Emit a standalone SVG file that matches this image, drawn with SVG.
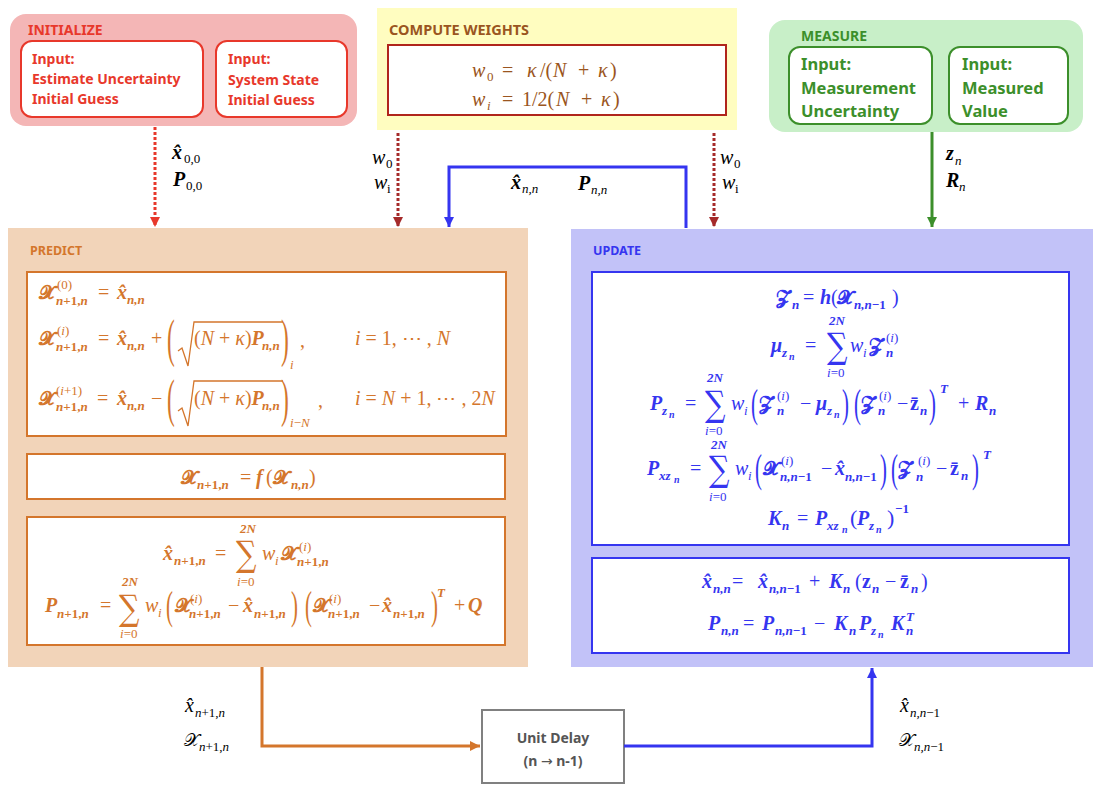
<svg xmlns="http://www.w3.org/2000/svg" width="1102" height="793" viewBox="0 0 1102 793">
<style>
.t{font-family:"Noto Sans","Liberation Sans",sans-serif;font-weight:bold}
.m{font-family:"Liberation Serif","DejaVu Serif",serif;font-style:italic;font-size:20px}
.u{font-style:normal}
.b{font-weight:bold}
.sc{font-style:normal;font-weight:bold;font-size:19px}
.s{font-size:13px}
.ss{font-size:10px}
.big{font-family:"Liberation Serif",serif;font-style:normal;font-weight:normal;font-size:52px}
.sum{font-family:"DejaVu Serif","Liberation Serif",serif;font-style:normal;font-weight:normal;font-size:35px}
.po{fill:#d4762c}
.bl{fill:#3535f0}
.k{fill:#000}
.br{fill:#9a5520}
</style>
<defs>
<marker id="aR" markerUnits="userSpaceOnUse" markerWidth="12" markerHeight="12" refX="10" refY="5" orient="auto"><path d="M0,0 L10,5 L0,10 z" fill="#e8382b"/></marker>
<marker id="aD" markerUnits="userSpaceOnUse" markerWidth="12" markerHeight="12" refX="10" refY="5" orient="auto"><path d="M0,0 L10,5 L0,10 z" fill="#a52a2a"/></marker>
<marker id="aB" markerUnits="userSpaceOnUse" markerWidth="12" markerHeight="12" refX="10" refY="5" orient="auto"><path d="M0,0 L10,5 L0,10 z" fill="#3535f0"/></marker>
<marker id="aG" markerUnits="userSpaceOnUse" markerWidth="12" markerHeight="12" refX="10" refY="5" orient="auto"><path d="M0,0 L10,5 L0,10 z" fill="#3c8f2b"/></marker>
<marker id="aO" markerUnits="userSpaceOnUse" markerWidth="12" markerHeight="12" refX="10" refY="5" orient="auto"><path d="M0,0 L10,5 L0,10 z" fill="#d4762c"/></marker>
</defs>
<rect width="1102" height="793" fill="#fff"/>

<g id="initialize">
<rect x="10" y="14" width="347" height="112" rx="16" fill="#f4b6b6"/>
<text class="t" x="28" y="35" font-size="14" fill="#e8382b">INITIALIZE</text>
<rect x="21" y="41" width="182" height="76" rx="11" fill="#fff" stroke="#e8382b" stroke-width="2"/>
<rect x="216" y="41" width="131" height="76" rx="11" fill="#fff" stroke="#e8382b" stroke-width="2"/>
<g class="t" font-size="14" fill="#e8382b">
<text x="32" y="64">Input:</text><text x="32" y="84">Estimate Uncertainty</text><text x="32" y="104">Initial Guess</text>
<text x="228" y="64">Input:</text><text x="228" y="85">System State</text><text x="228" y="105">Initial Guess</text>
</g>
</g>

<g id="weights">
<rect x="377" y="8" width="360" height="122" fill="#fffdc0"/>
<text class="t" x="389" y="35" font-size="14.5" fill="#9a5520">COMPUTE WEIGHTS</text>
<rect x="388" y="45" width="338" height="70" fill="#fff" stroke="#b0251c" stroke-width="2"/>
<g class="m br" font-size="23">
<text x="472" y="77">w</text><text x="487" y="81" class="s u">0</text>
<text x="502" y="77" class="u">=</text>
<text x="527" y="77">κ</text><text x="540" y="77" class="u">/(</text><text x="553" y="77">N</text><text x="578" y="77" class="u">+</text><text x="598" y="77">κ</text><text x="610" y="77" class="u">)</text>
<text x="472" y="106">w</text><text x="487" y="110" class="s">i</text>
<text x="502" y="106" class="u">=</text>
<text x="522" y="106" class="u">1/2(</text><text x="556" y="106">N</text><text x="581" y="106" class="u">+</text><text x="601" y="106">κ</text><text x="613" y="106" class="u">)</text>
</g>
</g>

<g id="measure">
<rect x="769" y="20" width="314" height="112" rx="16" fill="#c8efc8"/>
<text class="t" x="801" y="41" font-size="14" fill="#3c8f2b">MEASURE</text>
<rect x="789" y="47" width="143" height="77" rx="11" fill="#fff" stroke="#3c8f2b" stroke-width="2"/>
<rect x="949" y="47" width="119" height="77" rx="11" fill="#fff" stroke="#3c8f2b" stroke-width="2"/>
<g class="t" font-size="16.5" fill="#3c8f2b">
<text x="801" y="70">Input:</text><text x="801" y="94">Measurement</text><text x="801" y="117">Uncertainty</text>
<text x="962" y="70">Input:</text><text x="962" y="94">Measured</text><text x="962" y="117">Value</text>
</g>
</g>

<g id="predict">
<rect x="8" y="228" width="520" height="439" fill="#f2d4b9"/>
<text class="t" x="30" y="255" font-size="12.5" fill="#d4762c">PREDICT</text>
<rect x="27" y="272" width="479" height="164" fill="#fff" stroke="#d4762c" stroke-width="2"/>
<rect x="27" y="454" width="478" height="45" fill="#fff" stroke="#d4762c" stroke-width="2"/>
<rect x="27" y="517" width="478" height="128" fill="#fff" stroke="#d4762c" stroke-width="2"/>
<g class="m po">
<!-- line 1 -->
<text x="39" y="299" class="sc">𝓧</text>
<text x="57" y="289" class="s u">(0)</text>
<text x="56" y="305" class="s b">n<tspan class="u">+1,</tspan>n</text>
<text x="98" y="299" class="u">=</text>
<text x="117" y="299" class="b">x̂</text><text x="127" y="304" class="s b">n,n</text>
<!-- line 2 -->
<text x="39" y="345" class="sc">𝓧</text>
<text x="57" y="335" class="s"><tspan class="u">(</tspan>i<tspan class="u">)</tspan></text>
<text x="56" y="351" class="s b">n<tspan class="u">+1,</tspan>n</text>
<text x="98" y="345" class="u">=</text>
<text x="117" y="345" class="b">x̂</text><text x="127" y="350" class="s b">n,n</text>
<text x="151" y="345" class="u">+</text>
<text class="big" transform="translate(167,356) scale(0.45,1)">(</text>
<text x="194" y="345"><tspan class="u">(</tspan>N <tspan class="u">+</tspan> κ<tspan class="u">)</tspan><tspan class="b">P</tspan></text>
<text x="262" y="350" class="s b">n,n</text>
<text class="big" transform="translate(281,356) scale(0.45,1)">)</text>
<text x="290" y="369" class="s">i</text>
<text x="300" y="347" class="u">,</text>
<text x="355" y="345">i <tspan class="u">= 1, ⋯ ,</tspan> N</text>
<!-- line 3 -->
<text x="39" y="405" class="sc">𝓧</text>
<text x="56" y="395" class="s"><tspan class="u">(</tspan>i<tspan class="u">+1)</tspan></text>
<text x="56" y="411" class="s b">n<tspan class="u">+1,</tspan>n</text>
<text x="97" y="405" class="u">=</text>
<text x="117" y="405" class="b">x̂</text><text x="127" y="410" class="s b">n,n</text>
<text x="151" y="405" class="u">−</text>
<text class="big" transform="translate(167,416) scale(0.45,1)">(</text>
<text x="194" y="405"><tspan class="u">(</tspan>N <tspan class="u">+</tspan> κ<tspan class="u">)</tspan><tspan class="b">P</tspan></text>
<text x="262" y="410" class="s b">n,n</text>
<text class="big" transform="translate(281,416) scale(0.45,1)">)</text>
<text x="290" y="427" class="s">i<tspan class="u">−</tspan>N</text>
<text x="318" y="407" class="u">,</text>
<text x="355" y="405">i <tspan class="u">=</tspan> N <tspan class="u">+ 1, ⋯ , 2</tspan>N</text>
<!-- box 2 -->
<text x="181" y="484" class="sc">𝓧</text>
<text x="197" y="489" class="s b">n<tspan class="u">+1,</tspan>n</text>
<text x="240" y="484" class="u">=</text>
<text x="256" y="484" class="b">f</text>
<text x="266" y="484" class="u">(</text>
<text x="273" y="484" class="sc">𝓧</text>
<text x="291" y="489" class="s b">n,n</text>
<text x="309" y="484" class="u">)</text>
<!-- box 3 line 1 -->
<text x="163" y="560" class="b">x̂</text><text x="174" y="565" class="s b">n<tspan class="u">+1,</tspan>n</text>
<text x="215" y="560" class="u">=</text>
<text class="sum" transform="translate(236,566) scale(0.82,1)">∑</text>
<text x="240" y="533" class="s b">2N</text>
<text x="237" y="586" class="s">i<tspan class="u">=0</tspan></text>
<text x="262" y="560">w</text><text x="275" y="565" class="s">i</text>
<text x="281" y="560" class="sc">𝓧</text>
<text x="299" y="551" class="s"><tspan class="u">(</tspan>i<tspan class="u">)</tspan></text>
<text x="297" y="566" class="s b">n<tspan class="u">+1,</tspan>n</text>
<!-- box 3 line 2 -->
<text x="45" y="612" class="b">P</text><text x="57" y="618" class="s b">n<tspan class="u">+1,</tspan>n</text>
<text x="100" y="612" class="u">=</text>
<text class="sum" transform="translate(119,620) scale(0.82,1)">∑</text>
<text x="122" y="586" class="s b">2N</text>
<text x="120" y="638" class="s">i<tspan class="u">=0</tspan></text>
<text x="145" y="612">w</text><text x="158" y="617" class="s">i</text>
<text class="big" transform="translate(166,619) scale(0.4,0.75)">(</text>
<text x="175" y="612" class="sc">𝓧</text>
<text x="190" y="603" class="s"><tspan class="u">(</tspan>i<tspan class="u">)</tspan></text>
<text x="189" y="618" class="s b">n<tspan class="u">+1,</tspan>n</text>
<text x="228" y="612" class="u">−</text>
<text x="243" y="612" class="b">x̂</text><text x="254" y="618" class="s b">n<tspan class="u">+1,</tspan>n</text>
<text class="big" transform="translate(291,619) scale(0.4,0.75)">)</text>
<text class="big" transform="translate(305,619) scale(0.4,0.75)">(</text>
<text x="313" y="612" class="sc">𝓧</text>
<text x="329" y="603" class="s"><tspan class="u">(</tspan>i<tspan class="u">)</tspan></text>
<text x="328" y="618" class="s b">n<tspan class="u">+1,</tspan>n</text>
<text x="369" y="612" class="u">−</text>
<text x="382" y="612" class="b">x̂</text><text x="393" y="618" class="s b">n<tspan class="u">+1,</tspan>n</text>
<text class="big" transform="translate(431,619) scale(0.4,0.75)">)</text>
<text x="437" y="597" class="s b">T</text>
<text x="454" y="612" class="u">+</text>
<text x="468" y="612" class="b">Q</text>
</g>
<g fill="none" stroke="#d4762c" stroke-width="1.3">
<polyline points="178,351 182,348 188,366 194,322 283,322"/>
<polyline points="178,411 182,408 188,426 194,381 283,381"/>
</g>
</g>

<g id="update">
<rect x="571" y="229" width="522" height="438" fill="#c2c2f8"/>
<text class="t" x="593" y="255" font-size="12.5" fill="#3535f0">UPDATE</text>
<rect x="592" y="272" width="477" height="273" fill="#fff" stroke="#3535f0" stroke-width="2"/>
<rect x="592" y="558" width="477" height="95" fill="#fff" stroke="#3535f0" stroke-width="2"/>
<g class="m bl">
<!-- line1 -->
<text x="776" y="304" class="sc">𝓩</text><text x="792" y="309" class="s b">n</text>
<text x="803" y="304" class="u">=</text>
<text x="820" y="304" class="b">h</text>
<text x="831" y="304" class="u">(</text>
<text x="837" y="304" class="sc">𝓧</text>
<text x="854" y="309" class="s b">n,n<tspan class="u">−1</tspan></text>
<text x="892" y="304" class="u">)</text>
<!-- line2 -->
<text x="771" y="352" class="b">μ</text><text x="782" y="357" class="s b">z</text><text x="789" y="360" class="ss b">n</text>
<text x="805" y="352" class="u">=</text>
<text class="sum" transform="translate(827,358) scale(0.82,1)">∑</text>
<text x="829" y="325" class="s b">2N</text>
<text x="827" y="377" class="s">i<tspan class="u">=0</tspan></text>
<text x="850" y="352">w</text><text x="863" y="357" class="s">i</text>
<text x="869" y="352" class="sc">𝓩</text>
<text x="886" y="342" class="s"><tspan class="u">(</tspan>i<tspan class="u">)</tspan></text>
<text x="886" y="357" class="s b">n</text>
<!-- line3 -->
<text x="650" y="410" class="b">P</text><text x="662" y="415" class="s b">z</text><text x="669" y="418" class="ss b">n</text>
<text x="685" y="410" class="u">=</text>
<text class="sum" transform="translate(705,416) scale(0.82,1)">∑</text>
<text x="707" y="382" class="s b">2N</text>
<text x="705" y="435" class="s">i<tspan class="u">=0</tspan></text>
<text x="731" y="410">w</text><text x="744" y="415" class="s">i</text>
<text class="big" transform="translate(751,417) scale(0.4,0.75)">(</text>
<text x="759" y="410" class="sc">𝓩</text>
<text x="777" y="400" class="s"><tspan class="u">(</tspan>i<tspan class="u">)</tspan></text>
<text x="777" y="415" class="s b">n</text>
<text x="800" y="410" class="u">−</text>
<text x="816" y="410" class="b">μ</text><text x="827" y="415" class="s b">z</text><text x="834" y="418" class="ss b">n</text>
<text class="big" transform="translate(842,417) scale(0.4,0.75)">)</text>
<text class="big" transform="translate(854,417) scale(0.4,0.75)">(</text>
<text x="861" y="410" class="sc">𝓩</text>
<text x="879" y="400" class="s"><tspan class="u">(</tspan>i<tspan class="u">)</tspan></text>
<text x="878" y="415" class="s b">n</text>
<text x="897" y="410" class="u">−</text>
<text x="910" y="410" class="b u">z̄</text><text x="920" y="415" class="s b">n</text>
<text class="big" transform="translate(929,417) scale(0.4,0.75)">)</text>
<text x="940" y="393" class="s b">T</text>
<text x="958" y="410" class="u">+</text>
<text x="975" y="410" class="b">R</text><text x="989" y="415" class="s b">n</text>
<!-- line4 -->
<text x="647" y="475" class="b">P</text><text x="659" y="480" class="s b">xz</text><text x="674" y="483" class="ss b">n</text>
<text x="690" y="475" class="u">=</text>
<text class="sum" transform="translate(709,481) scale(0.82,1)">∑</text>
<text x="711" y="449" class="s b">2N</text>
<text x="709" y="501" class="s">i<tspan class="u">=0</tspan></text>
<text x="735" y="475">w</text><text x="748" y="480" class="s">i</text>
<text class="big" transform="translate(755,482) scale(0.4,0.75)">(</text>
<text x="763" y="475" class="sc">𝓧</text>
<text x="781" y="465" class="s"><tspan class="u">(</tspan>i<tspan class="u">)</tspan></text>
<text x="780" y="481" class="s b">n,n<tspan class="u">−1</tspan></text>
<text x="821" y="475" class="u">−</text>
<text x="835" y="475" class="b">x̂</text><text x="845" y="481" class="s b">n,n<tspan class="u">−1</tspan></text>
<text class="big" transform="translate(880,482) scale(0.4,0.75)">)</text>
<text class="big" transform="translate(891,482) scale(0.4,0.75)">(</text>
<text x="898" y="475" class="sc">𝓩</text>
<text x="918" y="465" class="s"><tspan class="u">(</tspan>i<tspan class="u">)</tspan></text>
<text x="916" y="481" class="s b">n</text>
<text x="936" y="475" class="u">−</text>
<text x="950" y="475" class="b u">z̄</text><text x="961" y="480" class="s b">n</text>
<text class="big" transform="translate(972,482) scale(0.4,0.75)">)</text>
<text x="983" y="459" class="s b">T</text>
<!-- line5 -->
<text x="768" y="525" class="b">K</text><text x="782" y="530" class="s b">n</text>
<text x="797" y="525" class="u">=</text>
<text x="815" y="525" class="b">P</text><text x="827" y="530" class="s b">xz</text><text x="842" y="533" class="ss b">n</text>
<text x="850" y="525" class="u" font-size="22">(</text>
<text x="857" y="525" class="b">P</text><text x="869" y="530" class="s b">z</text><text x="876" y="533" class="ss b">n</text>
<text x="887" y="525" class="u" font-size="22">)</text>
<text x="895" y="513" class="s b u">−1</text>
<!-- box2 line1 -->
<text x="702" y="588" class="b">x̂</text><text x="713" y="593" class="s b">n,n</text>
<text x="732" y="588" class="u">=</text>
<text x="758" y="588" class="b">x̂</text><text x="769" y="593" class="s b">n,n<tspan class="u">−1</tspan></text>
<text x="809" y="588" class="u">+</text>
<text x="829" y="588" class="b">K</text><text x="843" y="593" class="s b">n</text>
<text x="855" y="588" class="u">(</text>
<text x="862" y="588" class="b u">z</text><text x="872" y="593" class="s b">n</text>
<text x="885" y="588" class="u">−</text>
<text x="900" y="588" class="b u">z̄</text><text x="911" y="593" class="s b">n</text>
<text x="921" y="588" class="u">)</text>
<!-- box2 line2 -->
<text x="708" y="630" class="b">P</text><text x="721" y="635" class="s b">n,n</text>
<text x="743" y="630" class="u">=</text>
<text x="762" y="630" class="b">P</text><text x="775" y="635" class="s b">n,n<tspan class="u">−1</tspan></text>
<text x="814" y="630" class="u">−</text>
<text x="834" y="630" class="b">K</text><text x="849" y="635" class="s b">n</text>
<text x="859" y="630" class="b">P</text><text x="871" y="635" class="s b">z</text><text x="878" y="638" class="ss b">n</text>
<text x="891" y="630" class="b">K</text><text x="906" y="621" class="s b">T</text><text x="906" y="635" class="s b">n</text>
</g>
</g>

<g id="unit-delay">
<rect x="482" y="710" width="142" height="73" fill="#fff" stroke="#808080" stroke-width="2"/>
<text class="t" x="553" y="743" font-size="14" fill="#555" text-anchor="middle">Unit Delay</text>
<text class="t" x="553" y="766" font-size="14" fill="#555" text-anchor="middle">(n <tspan font-family="DejaVu Sans" font-weight="normal">→</tspan> n-1)</text>
</g>

<g id="connectors" fill="none">
<line x1="155" y1="127" x2="155" y2="227" stroke="#e8382b" stroke-width="3" stroke-dasharray="3 2" marker-end="url(#aR)"/>
<line x1="398" y1="133" x2="398" y2="227" stroke="#a52a2a" stroke-width="3" stroke-dasharray="3 2" marker-end="url(#aD)"/>
<line x1="714" y1="133" x2="714" y2="227" stroke="#a52a2a" stroke-width="3" stroke-dasharray="3 2" marker-end="url(#aD)"/>
<path d="M686 228 V167 H449 V227" stroke="#3535f0" stroke-width="3" marker-end="url(#aB)"/>
<line x1="932" y1="132" x2="932" y2="227" stroke="#3c8f2b" stroke-width="3" marker-end="url(#aG)"/>
<path d="M262 667 V746 H480" stroke="#d4762c" stroke-width="3" marker-end="url(#aO)"/>
<path d="M624 746 H872 V668" stroke="#3535f0" stroke-width="3" marker-end="url(#aB)"/>
</g>

<g id="labels" class="m k">
<text x="172" y="159" class="b">x̂</text><text x="184" y="163" class="s u">0,0</text>
<text x="173" y="186" class="b">P</text><text x="186" y="190" class="s u">0,0</text>
<text x="372" y="164">w</text><text x="386" y="168" class="s u">0</text>
<text x="374" y="189">w</text><text x="387" y="193" class="s u">i</text>
<text x="720" y="164">w</text><text x="734" y="168" class="s u">0</text>
<text x="722" y="189">w</text><text x="735" y="193" class="s u">i</text>
<text x="511" y="189" class="b">x̂</text><text x="522" y="193" class="s">n,n</text>
<text x="578" y="190" class="b">P</text><text x="591" y="194" class="s">n,n</text>
<text x="946" y="160" class="b">z</text><text x="955" y="165" class="s">n</text>
<text x="946" y="187" class="b">R</text><text x="959" y="191" class="s">n</text>
<text x="185" y="712">x̂</text><text x="195" y="717" class="s">n<tspan class="u">+1,</tspan>n</text>
<text x="184" y="746" class="u" font-size="18">𝒳</text><text x="199" y="751" class="s">n<tspan class="u">+1,</tspan>n</text>
<text x="900" y="712">x̂</text><text x="910" y="717" class="s">n,n<tspan class="u">−1</tspan></text>
<text x="899" y="746" class="u" font-size="18">𝒳</text><text x="914" y="751" class="s">n,n<tspan class="u">−1</tspan></text>
</g>
</svg>
